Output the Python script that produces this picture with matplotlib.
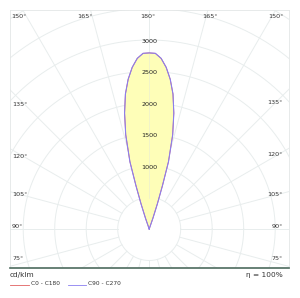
import numpy as np
import matplotlib
matplotlib.use("Agg")
import matplotlib.pyplot as plt

# Luminous intensity (cd/klm) vs angle from the 180° axis (degrees), symmetric beam
beam_angles = [0, 2, 4, 6, 8, 10, 12, 14, 16, 17, 18, 19, 20]
c0_c180 = [2795, 2790, 2715, 2580, 2400, 2175, 1880, 1540, 1110, 720, 420, 180, 0]
c90_c270 = [2795, 2790, 2715, 2580, 2400, 2175, 1880, 1540, 1110, 720, 420, 180, 0]

ring_values = [500, 1000, 1500, 2000, 2500, 3000, 3500, 4000]
ring_labels = [1000, 1500, 2000, 2500, 3000]
spoke_angles = list(range(0, 360, 15))

top_labels = ["150°", "165°", "180°", "165°", "150°"]
left_labels = ["135°", "120°", "105°", "90°", "75°"]
right_labels = ["135°", "120°", "105°", "90°", "75°"]

W, H = 300, 298
fig = plt.figure(figsize=(W / 100, H / 100), dpi=100)

cx, cy = 149.2, 229.0          # pixel position of the origin
scale = 63.0 / 1000.0          # px per cd
ax_l, ax_r, ax_t, ax_b = 9.5, 288.5, 10.0, 268.0
ax = fig.add_axes([ax_l / W, (H - ax_b) / H, (ax_r - ax_l) / W, (ax_b - ax_t) / H])
ax.set_xlim((ax_l - cx) / scale, (ax_r - cx) / scale)
ax.set_ylim((cy - ax_b) / scale, (cy - ax_t) / scale)
ax.set_xticks([])
ax.set_yticks([])
for s in ["top", "left", "right"]:
    ax.spines[s].set_color("#e3e6e6")
    ax.spines[s].set_linewidth(0.6)
ax.spines["bottom"].set_color("#4d6b5e")
ax.spines["bottom"].set_linewidth(1.2)

gc = "#e8eded"
t = np.linspace(0, 2 * np.pi, 721)
for r in ring_values:
    ax.plot(r * np.cos(t), r * np.sin(t), color=gc, lw=0.7, zorder=1)
for a in spoke_angles:
    th = np.deg2rad(a)
    ax.plot([500 * np.cos(th), 5000 * np.cos(th)], [500 * np.sin(th), 5000 * np.sin(th)],
            color=gc, lw=0.7, zorder=1)

def to_xy(angles, vals):
    ang = np.deg2rad(np.concatenate([-np.array(angles[::-1]), np.array(angles[1:])]))
    v = np.concatenate([np.array(vals[::-1]), np.array(vals[1:])])
    return v * np.sin(ang), v * np.cos(ang)

x0, y0 = to_xy(beam_angles, c0_c180)
x1, y1 = to_xy(beam_angles, c90_c270)
ax.fill(x1, y1, color="#fefeb8", zorder=2, lw=0)
ax.plot(x0, y0, color="#e06060", lw=0.6, zorder=3)
ax.plot(x1, y1, color="#8a7ff0", lw=0.8, zorder=4)
ax.plot([0, 0], [500, 2780], color="#ecefcf", lw=0.5, zorder=3)

for v in ring_labels:
    ax.text(0, v - 20, str(v), ha="center", va="center", fontsize=4.6, color="#222222", zorder=5)

def px(x, y):
    return ((x - cx) / scale, (cy - y) / scale)

tc = "#333333"
for lab, x in zip(top_labels, [19, 85, 148, 210, 276]):
    ax.text(*px(x, 16), lab, ha="center", va="center", fontsize=4.6, color=tc)
for lab, y in zip(left_labels, [104, 156, 195, 227, 259]):
    ax.text(*px(12, y), lab, ha="left", va="center", fontsize=4.6, color=tc)
for lab, y in zip(right_labels, [103, 155, 194, 227, 259]):
    ax.text(*px(283, y), lab, ha="right", va="center", fontsize=4.6, color=tc)

fig.text(10 / W, 1 - 275 / H, "cd/klm", ha="left", va="center", fontsize=5.3, color=tc)
fig.text(283 / W, 1 - 275 / H, "η = 100%", ha="right", va="center", fontsize=5.3, color=tc)
fig.add_artist(plt.Line2D([10 / W, 29 / W], [1 - 285 / H] * 2, color="#e06060", lw=0.6))
fig.text(31 / W, 1 - 283.5 / H, "C0 - C180", ha="left", va="center", fontsize=4.2, color=tc)
fig.add_artist(plt.Line2D([68 / W, 86 / W], [1 - 285 / H] * 2, color="#8a7ff0", lw=0.6))
fig.text(88 / W, 1 - 283.5 / H, "C90 - C270", ha="left", va="center", fontsize=4.2, color=tc)

fig.savefig("out.png", dpi=100)
